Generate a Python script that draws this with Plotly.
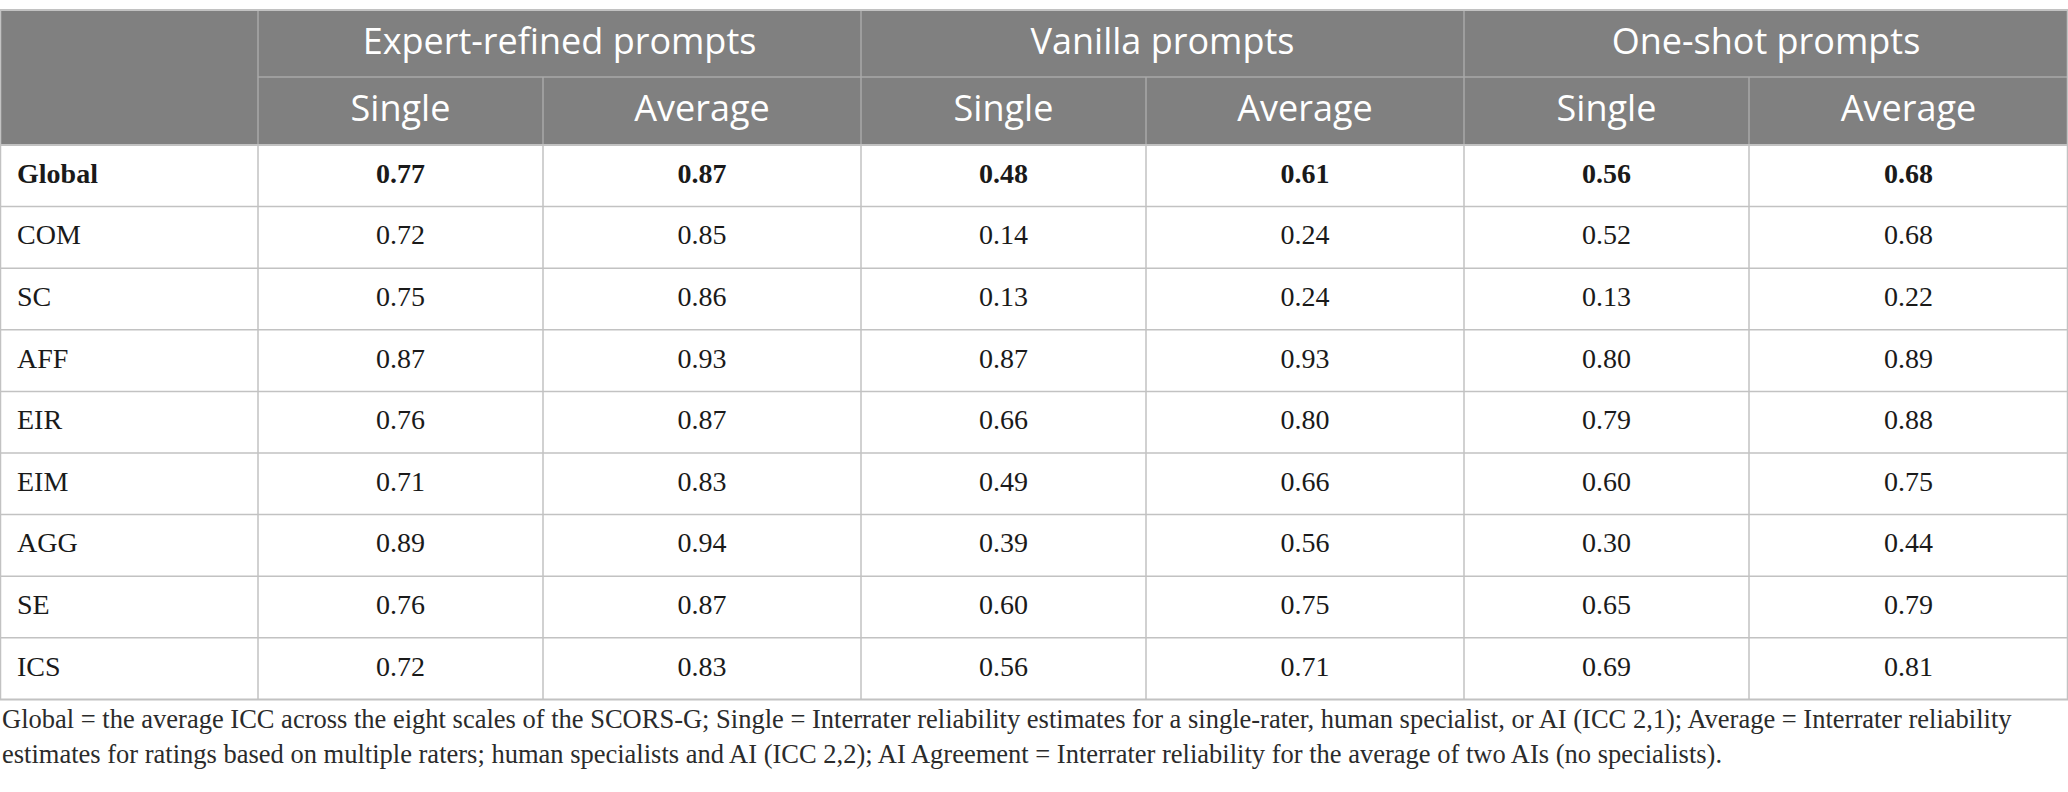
import plotly.graph_objects as go

# Table content
groups = ["Expert-refined prompts", "Vanilla prompts", "One-shot prompts"]
sub_headers = ["Single", "Average"]
scales = ["Global", "COM", "SC", "AFF", "EIR", "EIM", "AGG", "SE", "ICS"]

expert_single = [0.77, 0.72, 0.75, 0.87, 0.76, 0.71, 0.89, 0.76, 0.72]
expert_average = [0.87, 0.85, 0.86, 0.93, 0.87, 0.83, 0.94, 0.87, 0.83]
vanilla_single = [0.48, 0.14, 0.13, 0.87, 0.66, 0.49, 0.39, 0.60, 0.56]
vanilla_average = [0.61, 0.24, 0.24, 0.93, 0.80, 0.66, 0.56, 0.75, 0.71]
oneshot_single = [0.56, 0.52, 0.13, 0.80, 0.79, 0.60, 0.30, 0.65, 0.69]
oneshot_average = [0.68, 0.68, 0.22, 0.89, 0.88, 0.75, 0.44, 0.79, 0.81]

footnote = [
    "Global = the average ICC across the eight scales of the SCORS-G; Single = Interrater reliability "
    "estimates for a single-rater, human specialist, or AI (ICC 2,1); Average = Interrater reliability",
    "estimates for ratings based on multiple raters; human specialists and AI (ICC 2,2); AI Agreement = "
    "Interrater reliability for the average of two AIs (no specialists).",
]

# Layout geometry (pixel-like axis units)
W, H = 2068, 792
col_edges = [0, 258, 543, 861, 1146, 1464, 1749, 2068]
top = 10
head1 = 77
head2 = 145
row_h = 61.6
foot_y = [719, 754]

HEAD_BG = "#808080"
HEAD_LINE = "#a9a9a9"
GRID = "#c2c2c2"
SERIF = "Liberation Serif"
SANS = "Open Sans"

columns = [expert_single, expert_average, vanilla_single, vanilla_average,
           oneshot_single, oneshot_average]

fig = go.Figure()
shapes = []

# header background
shapes.append(dict(type="rect", x0=0, x1=W, y0=top, y1=head2,
                   fillcolor=HEAD_BG, line=dict(width=0), layer="below"))

# header lines
for g in range(3):
    x0 = col_edges[1 + 2 * g]
    x1 = col_edges[3 + 2 * g]
    shapes.append(dict(type="line", x0=x0, x1=x1, y0=head1, y1=head1,
                       line=dict(color=HEAD_LINE, width=1.5)))
    shapes.append(dict(type="line", x0=x0, x1=x0, y0=top, y1=head2,
                       line=dict(color=HEAD_LINE, width=1.5)))
    xm = col_edges[2 + 2 * g]
    shapes.append(dict(type="line", x0=xm, x1=xm, y0=head1, y1=head2,
                       line=dict(color=HEAD_LINE, width=1.5)))

bottom = head2 + row_h * len(scales)

# outer border + top line
shapes.append(dict(type="line", x0=0, x1=W, y0=top, y1=top,
                   line=dict(color=GRID, width=2)))
shapes.append(dict(type="line", x0=0.5, x1=0.5, y0=top, y1=bottom,
                   line=dict(color=GRID, width=1.5)))
shapes.append(dict(type="line", x0=W - 0.5, x1=W - 0.5, y0=top, y1=bottom,
                   line=dict(color=GRID, width=1.5)))

# body grid
for i in range(len(scales) + 1):
    y = head2 + row_h * i
    shapes.append(dict(type="line", x0=0, x1=W, y0=y, y1=y,
                       line=dict(color=GRID, width=2 if i in (0, len(scales)) else 1.5)))
for x in col_edges[1:-1]:
    shapes.append(dict(type="line", x0=x, x1=x, y0=head2, y1=bottom,
                       line=dict(color=GRID, width=1.5)))

# header texts
fig.add_trace(go.Scatter(
    x=[(col_edges[1 + 2 * g] + col_edges[3 + 2 * g]) / 2 for g in range(3)],
    y=[(top + head1) / 2 + 1] * 3,
    text=groups, mode="text", textposition="middle center",
    textfont=dict(family=SANS, size=36, color="white"),
    hoverinfo="skip", showlegend=False))
fig.add_trace(go.Scatter(
    x=[(col_edges[c] + col_edges[c + 1]) / 2 for c in range(1, 7)],
    y=[(head1 + head2) / 2 + 1] * 6,
    text=sub_headers * 3, mode="text", textposition="middle center",
    textfont=dict(family=SANS, size=36, color="white"),
    hoverinfo="skip", showlegend=False))

# row labels
row_y = [head2 + row_h * (i + 0.5) for i in range(len(scales))]
fig.add_trace(go.Scatter(
    x=[17] * len(scales), y=row_y,
    text=["<b>%s</b>" % s if s == "Global" else s for s in scales],
    mode="text", textposition="middle right",
    textfont=dict(family=SERIF, size=28, color="#1a1a1a"),
    hoverinfo="skip", showlegend=False))

# values
for c, vals in enumerate(columns):
    xc = (col_edges[c + 1] + col_edges[c + 2]) / 2
    fig.add_trace(go.Scatter(
        x=[xc] * len(vals), y=row_y,
        text=["<b>%.2f</b>" % v if i == 0 else "%.2f" % v for i, v in enumerate(vals)],
        mode="text", textposition="middle center",
        textfont=dict(family=SERIF, size=28, color="#1a1a1a"),
        hoverinfo="skip", showlegend=False))

annotations = []
for line, y in zip(footnote, foot_y):
    annotations.append(dict(x=0, y=y, xref="x", yref="y", text=line,
                            showarrow=False, xanchor="left", yanchor="middle",
                            font=dict(family=SERIF, size=26.5, color="#2b2b2b")))

fig.update_layout(
    width=W, height=H,
    margin=dict(l=0, r=0, t=0, b=0),
    paper_bgcolor="white", plot_bgcolor="white",
    xaxis=dict(range=[0, W], visible=False, fixedrange=True),
    yaxis=dict(range=[H, 0], visible=False, fixedrange=True),
    shapes=shapes, annotations=annotations,
)

fig.write_html("out.html", config={"displayModeBar": False},
               post_script="document.body.style.margin='0';")
